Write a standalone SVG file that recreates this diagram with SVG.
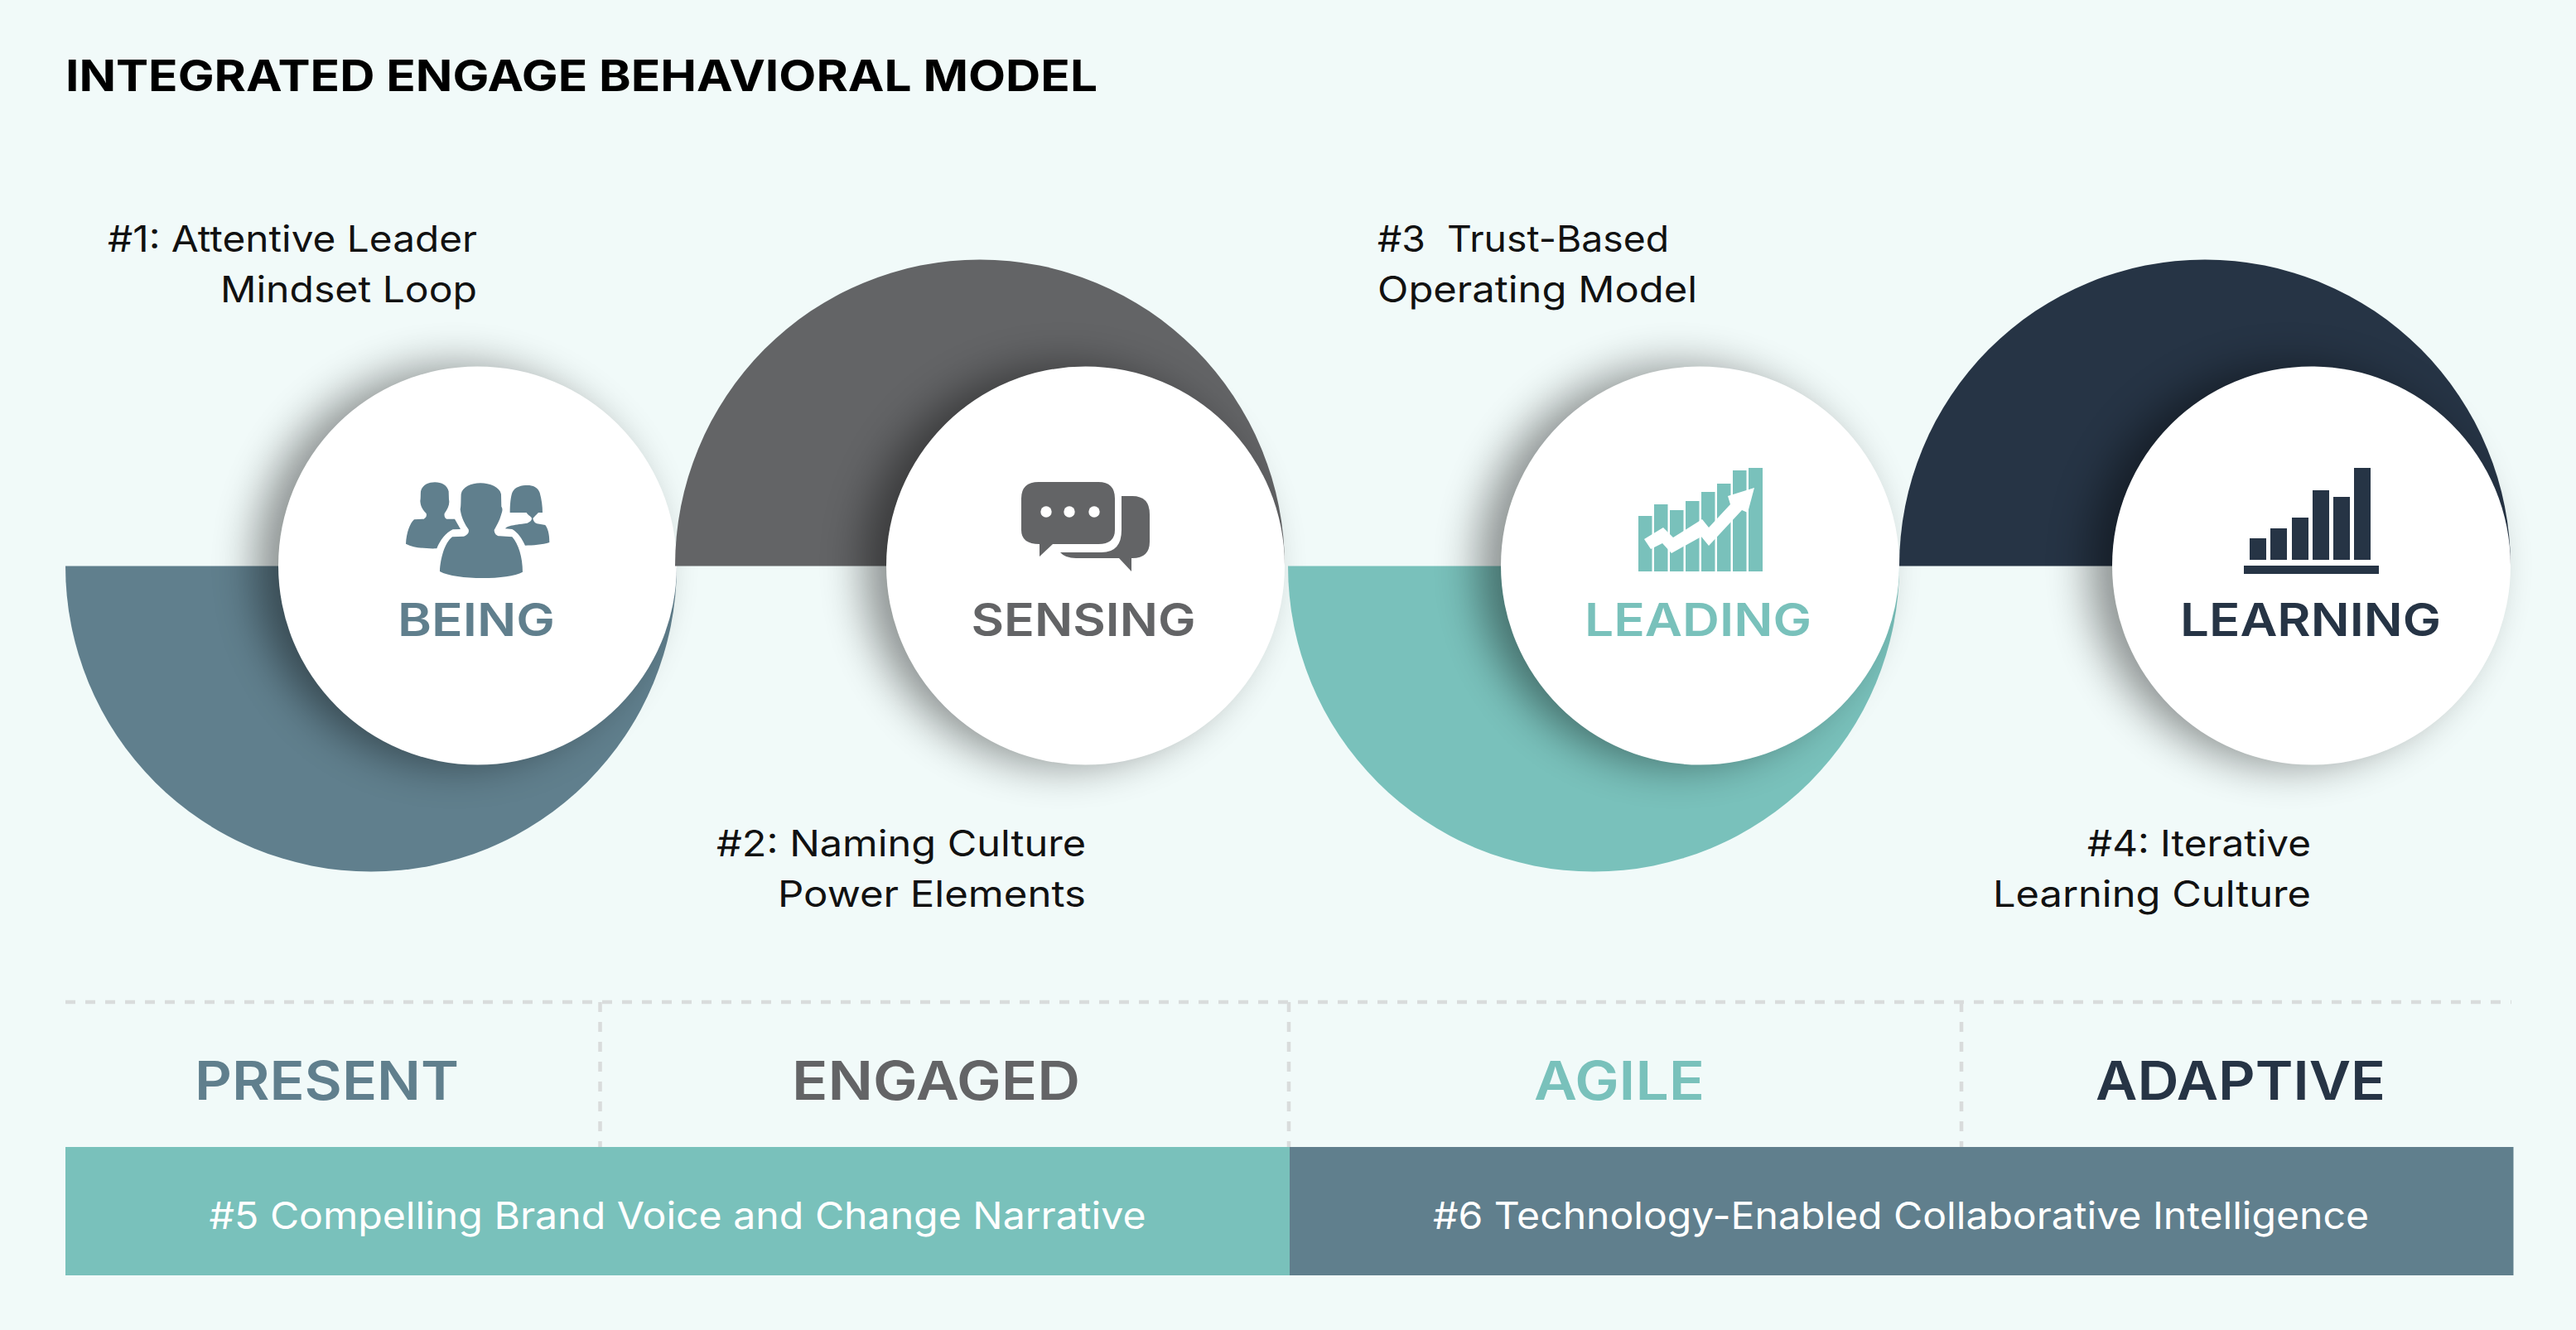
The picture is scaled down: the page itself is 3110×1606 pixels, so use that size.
<svg xmlns="http://www.w3.org/2000/svg" width="3110" height="1606" viewBox="0 0 3110 1606">
<style>
text{font-family:"Inter","Noto Sans",sans-serif}
.b{fill:#607f8d}.g{fill:#636466}.t{fill:#79c1bb}.n{fill:#263445}
.lab{font-size:44px;fill:#111}
.end{text-anchor:end}
.name{font-size:55px;font-weight:600;text-anchor:middle}
.col{font-size:64px;font-weight:600;text-anchor:middle}
.bar{font-size:45px;fill:#fff;text-anchor:middle}
.d{stroke:#d9dcdc;stroke-width:4.500;stroke-dasharray:12 12;fill:none}
.sh{fill:#000;opacity:.42;filter:url(#sh)}
.disc{fill:#fff}
</style>
<defs><filter id="sh" x="-40%" y="-40%" width="180%" height="180%"><feGaussianBlur stdDeviation="26"/></filter></defs>
<rect width="3110" height="1606" fill="#f1faf9"/>
<text id="title" x="79" y="110" font-size="52" font-weight="700" fill="#000" textLength="1246" lengthAdjust="spacingAndGlyphs">INTEGRATED ENGAGE BEHAVIORAL MODEL</text>

<g id="being">
<path class="b" d="M79 683.500A369 369 0 0 0 817 683.500Z"/>
<circle class="sh" cx="549" cy="683" r="240.500"/>
<circle class="disc" cx="576.500" cy="683" r="240.500"/>
<g class="b" transform="translate(440 540) scale(.3333)">
<path d="M150 350C152 310 165 275 180 262L215 260C224 255 226 248 224 240C212 228 203 215 202 195C204 185 203 172 204 160C210 135 235 127 255 127C280 127 300 138 305 160L306 190C310 205 302 225 290 240C288 250 292 258 298 260L327 260L348 297L320 298C295 310 275 335 262 367C220 368 180 365 150 350Z"/>
<path d="M273 450C275 400 292 345 318 325L360 323C375 318 380 308 377 298C365 280 352 260 347 225C350 215 349 190 350 170C355 145 385 130 420 130C455 130 490 145 495 170L496 215C503 225 498 235 495 245C490 265 478 285 470 300C470 312 478 322 490 322L535 325C558 350 573 400 573 452C520 482 330 482 273 450Z"/>
<path d="M510 295C518 285 530 283 590 275C604 268 608 262 605 255C598 248 590 243 587 237L527 237C527 205 530 180 535 165C545 142 570 138 590 138C610 138 628 145 635 165C642 190 645 215 645 237L630 237C622 245 615 252 610 258C612 268 618 275 625 277L655 282C668 300 670 325 670 345C645 353 610 356 582 356C570 330 555 308 535 297Z"/>
</g>
<text class="name b" x="575" y="768" textLength="190" lengthAdjust="spacingAndGlyphs">BEING</text>
</g>

<g id="sensing">
<path class="g" d="M815 683.500A368 370 0 0 1 1551 683.500Z"/>
<circle class="sh" cx="1283" cy="683" r="240.500"/>
<circle class="disc" cx="1310.500" cy="683" r="240.500"/>
<path class="g" d="M1254 582H1326Q1346 582 1346 602V640Q1346 657 1326 657H1271L1255 672V657Q1233 657 1233 640V602Q1233 582 1254 582Z"/>
<path class="g" d="M1354 599H1367Q1388 599 1388 621V654Q1388 674 1367 674H1366V690L1351 674H1299Q1286 674 1280 667H1330Q1354 667 1354 640Z"/>
<circle cx="1263" cy="618" r="6.700" fill="#fff"/><circle cx="1291" cy="618" r="6.700" fill="#fff"/><circle cx="1321" cy="618" r="6.700" fill="#fff"/>
<text class="name g" x="1308" y="768" textLength="271" lengthAdjust="spacingAndGlyphs">SENSING</text>
</g>

<g id="leading">
<path class="t" d="M1555 683.500A369 369 0 0 0 2293 683.500Z"/>
<circle class="sh" cx="2025" cy="683" r="240.500"/>
<circle class="disc" cx="2052.500" cy="683" r="240.500"/>
<g class="t">
<rect x="1978" y="623" width="16.500" height="67"/><rect x="1997" y="609" width="16.500" height="81"/><rect x="2016" y="616" width="16.500" height="74"/><rect x="2035" y="605" width="16.500" height="85"/><rect x="2054" y="594" width="16.500" height="96"/><rect x="2073" y="584" width="16.500" height="106"/><rect x="2092" y="568" width="16.500" height="122"/><rect x="2111" y="565" width="17" height="125"/>
</g>
<path fill="#fff" d="M1985 651L2008 637L2020 649L2055 627L2063 637L2089 609L2086 599L2118 589L2110 619L2103 616L2063 659L2054 648L2018 668L2007 656L1993 663Z"/>
<text class="name t" x="2050" y="768" textLength="274" lengthAdjust="spacingAndGlyphs">LEADING</text>
</g>

<g id="learning">
<path class="n" d="M2293 683.500A369 370 0 0 1 3031 683.500Z"/>
<circle class="sh" cx="2763" cy="683" r="240.500"/>
<circle class="disc" cx="2790.500" cy="683" r="240.500"/>
<g class="n">
<rect x="2716" y="650" width="20" height="26"/><rect x="2741" y="638" width="20" height="38"/><rect x="2767" y="625" width="20" height="51"/><rect x="2792" y="592" width="20" height="84"/><rect x="2817" y="600" width="20" height="76"/><rect x="2842" y="565" width="20" height="111"/><rect x="2709" y="683" width="163" height="10"/>
</g>
<text class="name n" x="2789.500" y="768" textLength="315" lengthAdjust="spacingAndGlyphs">LEARNING</text>
</g>

<g id="labels">
<text class="lab end" x="576" y="304" textLength="446" lengthAdjust="spacingAndGlyphs">#1: Attentive Leader</text>
<text class="lab end" x="576" y="365" textLength="310" lengthAdjust="spacingAndGlyphs">Mindset Loop</text>
<text class="lab end" x="1311" y="1034" textLength="446" lengthAdjust="spacingAndGlyphs">#2: Naming Culture</text>
<text class="lab end" x="1311" y="1095" textLength="372" lengthAdjust="spacingAndGlyphs">Power Elements</text>
<text class="lab" x="1663" y="304" textLength="352" lengthAdjust="spacingAndGlyphs" xml:space="preserve">#3  Trust-Based</text>
<text class="lab" x="1663" y="365" textLength="386" lengthAdjust="spacingAndGlyphs">Operating Model</text>
<text class="lab end" x="2790" y="1034" textLength="270" lengthAdjust="spacingAndGlyphs">#4: Iterative</text>
<text class="lab end" x="2790" y="1095" textLength="384" lengthAdjust="spacingAndGlyphs">Learning Culture</text>
</g>

<g id="connectors">
<path class="d" d="M79 1210H3032M724.500 1210V1385M1556 1210V1385M2368 1210V1385"/>
</g>

<g id="columns">
<text class="col b" x="394.500" y="1328" textLength="319" lengthAdjust="spacingAndGlyphs">PRESENT</text>
<text class="col g" x="1130" y="1328" textLength="348" lengthAdjust="spacingAndGlyphs">ENGAGED</text>
<text class="col t" x="1955" y="1328" textLength="206" lengthAdjust="spacingAndGlyphs">AGILE</text>
<text class="col n" x="2705" y="1328" textLength="350" lengthAdjust="spacingAndGlyphs">ADAPTIVE</text>
</g>

<g id="bar5"><rect class="t" x="79" y="1385" width="1478" height="155"/>
<text class="bar" x="818" y="1484" textLength="1131" lengthAdjust="spacingAndGlyphs">#5 Compelling Brand Voice and Change Narrative</text></g>
<g id="bar6"><rect class="b" x="1557" y="1385" width="1477.500" height="155"/>
<text class="bar" x="2295" y="1484" textLength="1130" lengthAdjust="spacingAndGlyphs">#6 Technology-Enabled Collaborative Intelligence</text></g>
</svg>
